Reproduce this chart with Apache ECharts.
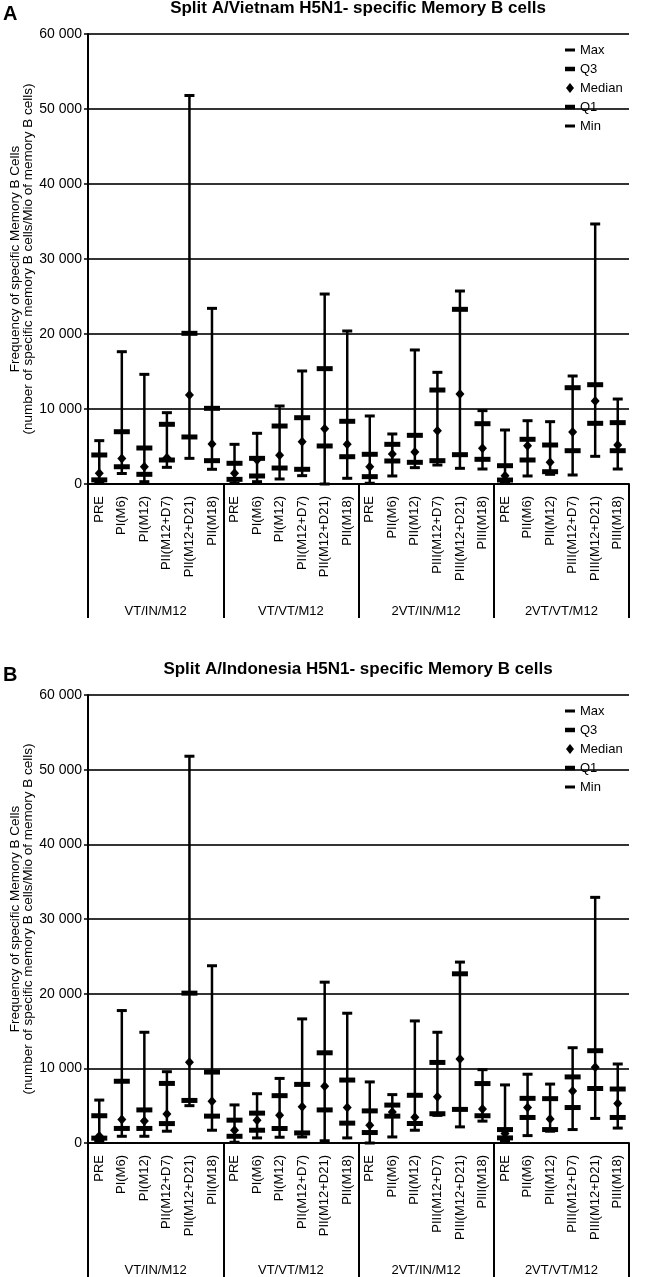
<!DOCTYPE html>
<html><head><meta charset="utf-8">
<script src="https://cdn.jsdelivr.net/npm/echarts@6/dist/echarts.min.js"></script>
<style>html,body{margin:0;padding:0;background:#fff}#c{width:650px;height:1277px}</style>
</head><body><div id="c"></div>
<script>
const categories = [
  'PRE','PI(M6)','PI(M12)','PII(M12+D7)','PII(M12+D21)','PII(M18)',
  'PRE','PI(M6)','PI(M12)','PII(M12+D7)','PII(M12+D21)','PII(M18)',
  'PRE','PII(M6)','PII(M12)','PIII(M12+D7)','PIII(M12+D21)','PIII(M18)',
  'PRE','PII(M6)','PII(M12)','PIII(M12+D7)','PIII(M12+D21)','PIII(M18)'
];
const groups = ['VT/IN/M12','VT/VT/M12','2VT/IN/M12','2VT/VT/M12'];
const yTickLabels = ['0','10 000','20 000','30 000','40 000','50 000','60 000'];
const panelTitles = ['Split A/Vietnam H5N1- specific Memory B cells','Split A/Indonesia H5N1- specific Memory B cells'];
const panelLetters = ['A','B'];
const yAxisTitle = 'Frequency of specific Memory B Cells\n(number of specific memory B cells/Mio of memory B cells)';

// Panel A: Split A/Vietnam
const vnMax = [5780,17640,14620,9510,51800,23420,5290,6760,10400,15070,25330,20400,9070,6670,17870,14890,25730,9780,7200,8440,8310,14400,34670,11330];
const vnQ3  = [3870,6970,4800,7960,20090,10090,2760,3420,7730,8840,15380,8360,3960,5290,6490,12530,23290,8040,2440,5960,5200,12840,13240,8180];
const vnMed = [1420,3400,2310,3510,11870,5330,1420,3200,3820,5640,7380,5290,2310,4000,4270,7110,12000,4760,1110,5110,2890,6930,11070,5200];
const vnQ1  = [550,2300,1290,3200,6270,3110,620,1070,2130,1960,5070,3640,980,3070,2890,3110,3910,3290,530,3200,1640,4440,8090,4440];
const vnMin = [250,1400,310,2220,3420,1960,100,310,670,1110,0,760,100,1070,2180,2530,2090,2000,220,1070,1290,1200,3690,2000];

// Panel B: Split A/Indonesia
const idMax = [5750,17740,14830,9550,51800,23740,5100,6600,8650,16620,21540,17380,8180,6480,16350,14830,24230,9820,7780,9210,7890,12760,32900,10580];
const idQ3  = [3650,8270,4430,7980,20070,9500,3060,4000,6340,7850,12080,8430,4300,5080,6390,10790,22660,7960,1800,5980,5940,8850,12360,7230];
const idMed = [950,3150,2950,3900,10800,5580,1710,3060,3700,4850,7600,4770,2390,4160,3440,6200,11240,4570,1260,4750,3220,6970,10160,5300];
const idQ1  = [650,1950,1950,2600,5700,3600,900,1710,1940,1350,4430,2660,1400,3600,2610,3920,4500,3650,680,3420,1800,4750,7300,3420];
const idMin = [300,900,900,1580,5000,1710,100,680,770,810,300,680,0,810,1710,3700,2160,2930,220,990,1580,1800,3290,2000];

const panels = [
  {max: vnMax, q3: vnQ3, med: vnMed, q1: vnQ1, min: vnMin},
  {max: idMax, q3: idQ3, med: idMed, q1: idQ1, min: idMin}
];

const FONT = 'Liberation Sans, Arial, sans-serif';
const TXT = '#000';
const chart = echarts.init(document.getElementById('c'), null, {renderer: 'canvas'});

const gridTops = [34, 695];
const gridHeights = [450, 448];
const grid = [], xAxis = [], yAxis = [], series = [], title = [], legend = [];

const markerDefs = [
  {name: 'Max', key: 'max', symbol: 'rect', size: [10, 3], z: 3, icon: 'path://M0,0H10V3H0Z'},
  {name: 'Q3', key: 'q3', symbol: 'rect', size: [16, 5], z: 3, icon: 'path://M0,0H10V4.5H0Z'},
  {name: 'Median', key: 'med', symbol: 'diamond', size: [9, 10], z: 5, icon: 'path://M4,0L8,5L4,10L0,5Z'},
  {name: 'Q1', key: 'q1', symbol: 'rect', size: [16, 5], z: 3, icon: 'path://M0,0H10V4.5H0Z'},
  {name: 'Min', key: 'min', symbol: 'rect', size: [10, 3], z: 3, icon: 'path://M0,0H10V3H0Z'}
];

panels.forEach((p, k) => {
  const top = gridTops[k];
  grid.push({left: 88, right: 21, top: top, height: gridHeights[k], containLabel: false, outerBoundsMode: 'none'});
  xAxis.push({
    type: 'category', gridIndex: k, data: categories, position: 'bottom', boundaryGap: true,
    axisLine: {lineStyle: {color: '#000', width: 2}},
    axisTick: {show: false},
    axisLabel: {interval: 0, rotate: 90, margin: 12, fontSize: 13, color: TXT, fontFamily: FONT},
    splitLine: {show: false}
  });
  xAxis.push({
    type: 'category', gridIndex: k, data: groups, position: 'bottom', boundaryGap: true,
    axisLine: {show: false},
    axisTick: {show: true, interval: 0, length: 134, lineStyle: {color: '#000', width: 2}},
    axisLabel: {interval: 0, margin: 121, fontSize: 13, color: TXT, fontFamily: FONT},
    splitLine: {show: false}
  });
  yAxis.push({
    type: 'value', gridIndex: k, min: 0, max: 60000, interval: 10000,
    axisLine: {show: true, lineStyle: {color: '#000', width: 2}},
    axisTick: {show: true, length: 4, lineStyle: {color: '#000', width: 1.5}},
    axisLabel: {formatter: v => yTickLabels[Math.round(v / 10000)], fontSize: 14, margin: 6, color: TXT, fontFamily: FONT},
    splitLine: {show: true, lineStyle: {color: '#333', width: 1.8}},
    name: yAxisTitle, nameLocation: 'middle', nameGap: 53, nameMoveOverlap: false,
    nameTextStyle: {fontSize: 13.5, lineHeight: 13, color: TXT, fontFamily: FONT}
  });
  series.push({
    type: 'custom', xAxisIndex: 2 * k, yAxisIndex: k, silent: true, z: 2,
    data: categories.map((c, i) => [i, p.min[i], p.max[i]]),
    encode: {x: 0, y: [1, 2]},
    renderItem: (params, api) => {
      const lo = api.coord([api.value(0), api.value(1)]);
      const hi = api.coord([api.value(0), api.value(2)]);
      return {type: 'line', shape: {x1: lo[0], y1: lo[1], x2: hi[0], y2: hi[1]},
              style: {stroke: '#000', lineWidth: 2.5}};
    }
  });
  markerDefs.forEach(m => {
    series.push({
      type: 'scatter', name: m.name, xAxisIndex: 2 * k, yAxisIndex: k, silent: true, z: m.z,
      data: p[m.key], symbol: m.symbol, symbolSize: m.size,
      itemStyle: {color: '#000', opacity: 1}
    });
  });
  title.push({text: panelLetters[k], left: 3, top: top - 30, padding: 0,
              textStyle: {fontSize: 20, fontWeight: 'bold', color: '#000', fontFamily: FONT}});
  title.push({text: panelTitles[k], left: 358, textAlign: 'center', top: top - 34, padding: 0,
              textStyle: {fontSize: 17, fontWeight: 'bold', color: '#000', fontFamily: FONT}});
  legend.push({
    data: markerDefs.map(m => ({name: m.name, icon: m.icon})),
    orient: 'vertical', left: 560, top: top + 4, itemWidth: 10, itemHeight: 10, itemGap: 5,
    selectedMode: false, symbolKeepAspect: true,
    textStyle: {fontSize: 13, lineHeight: 14, color: TXT, fontFamily: FONT}
  });
});

chart.setOption({
  animation: false,
  backgroundColor: '#fff',
  textStyle: {fontFamily: FONT},
  title: title,
  legend: legend,
  grid: grid,
  xAxis: xAxis,
  yAxis: yAxis,
  series: series
});
</script></body></html>
